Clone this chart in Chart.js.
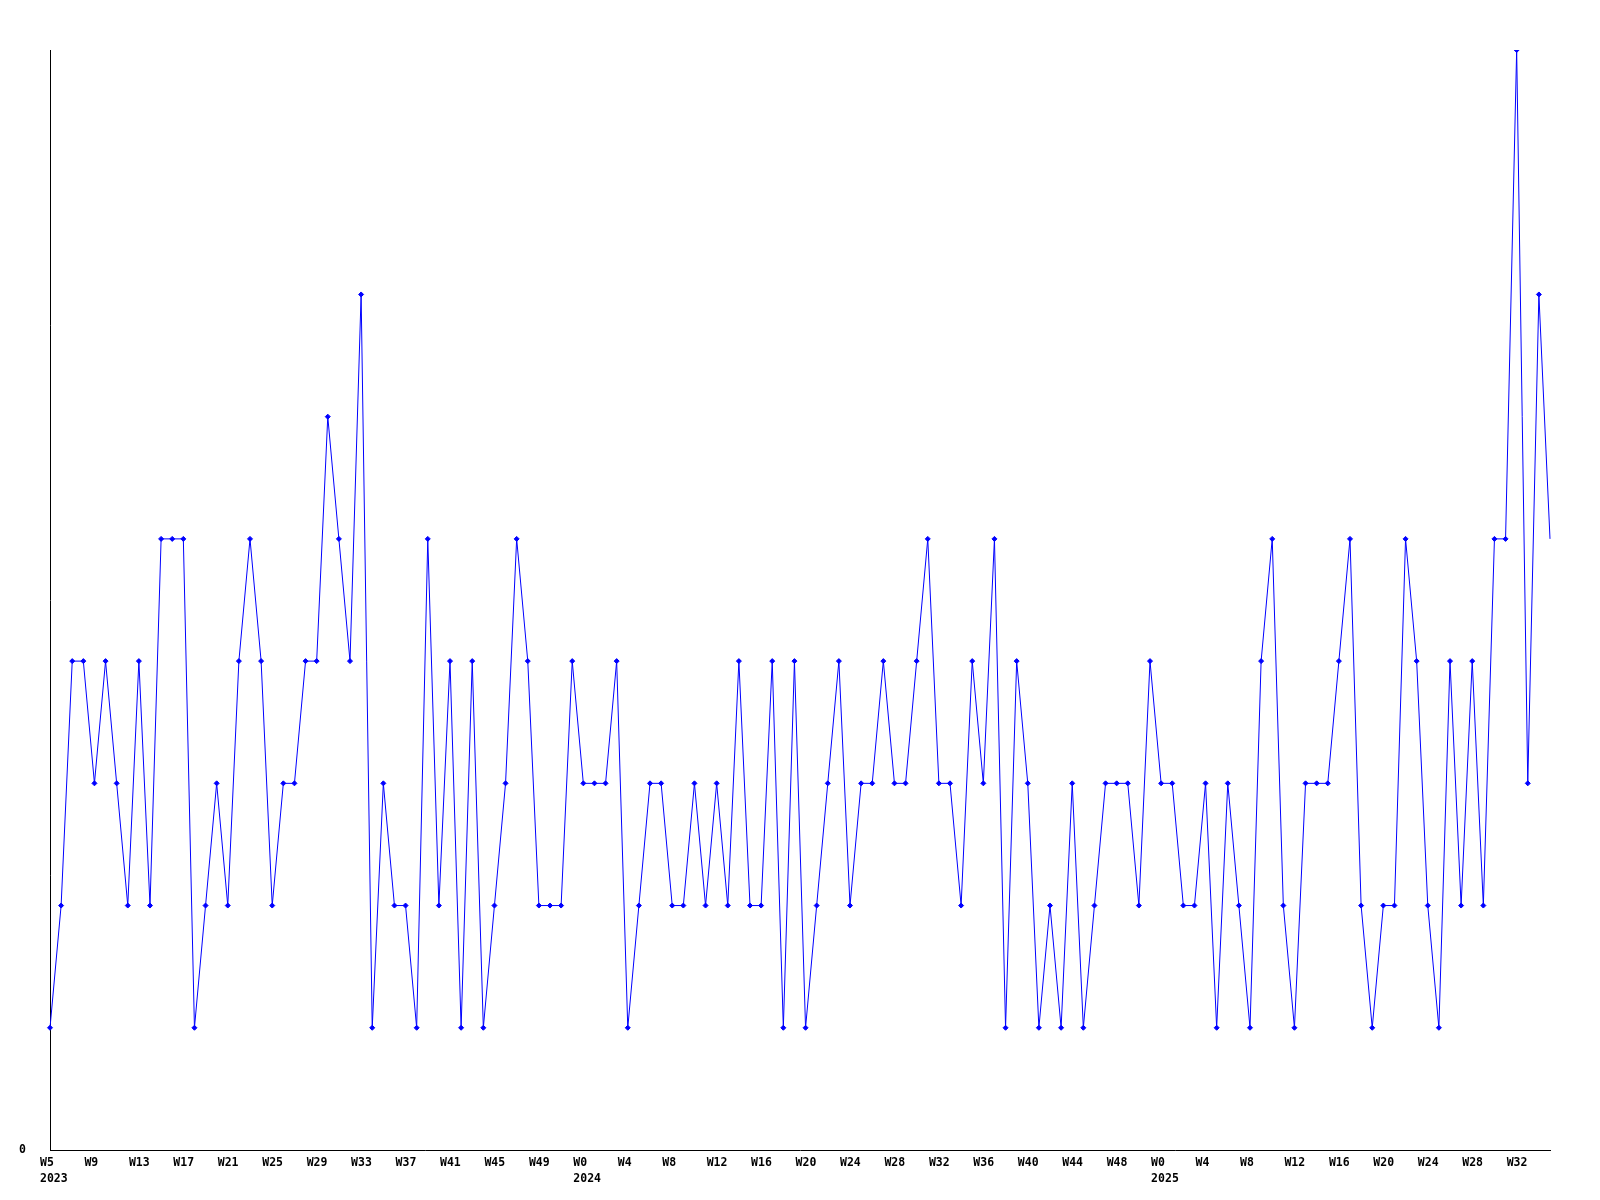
<!DOCTYPE html>
<html>
<head>
<meta charset="utf-8">
<script src="https://cdn.jsdelivr.net/npm/chart.js@4"></script>
<style>
  html, body { margin: 0; padding: 0; background: #fff; }
  canvas { display: block; }
</style>
</head>
<body>
<canvas id="chart" width="1600" height="1200"></canvas>
<script>
// Weekly counts, 2023 W5 .. 2025 W35 (one point per week).
const YEARS = ["2023", "2024", "2025"];
const FIRST_WEEK = [5, 0, 0];
const LAST_WEEK = [52, 51, 35];

const COUNTS = [
  1, 2, 4, 4, 3, 4, 3, 2, 4, 2,
  5, 5, 5, 1, 2, 3, 2, 4, 5, 4,
  2, 3, 3, 4, 4, 6, 5, 4, 7, 1,
  3, 2, 2, 1, 5, 2, 4, 1, 4, 1,
  2, 3, 5, 4, 2, 2, 2, 4, 3, 3,
  3, 4, 1, 2, 3, 3, 2, 2, 3, 2,
  3, 2, 4, 2, 2, 4, 1, 4, 1, 2,
  3, 4, 2, 3, 3, 4, 3, 3, 4, 5,
  3, 3, 2, 4, 3, 5, 1, 4, 3, 1,
  2, 1, 3, 1, 2, 3, 3, 3, 2, 4,
  3, 3, 2, 2, 3, 1, 3, 2, 1, 4,
  5, 2, 1, 3, 3, 3, 4, 5, 2, 1,
  2, 2, 5, 4, 2, 1, 4, 2, 4, 2,
  5, 5, 9, 3, 7, 5,
];

const Y_MAX = 9;
const LABEL_EVERY = 4;

// category labels: "W<n>", the year is added under the first shown label of each year
const weeks = [];
const yearOf = [];
YEARS.forEach((year, i) => {
  for (let w = FIRST_WEEK[i]; w <= LAST_WEEK[i]; w++) {
    weeks.push("W" + w);
    yearOf.push(year);
  }
});

const BLUE = "#0000ff";
const FONT = { family: '"DejaVu Sans Mono", monospace', size: 11.5, weight: "bold", lineHeight: "16px" };

new Chart(document.getElementById("chart"), {
  type: "line",
  data: {
    labels: weeks,
    datasets: [{
      data: COUNTS,
      borderColor: BLUE,
      backgroundColor: BLUE,
      borderWidth: 1,
      tension: 0,
      pointStyle: "rectRot",
      pointRadius: (ctx) => (ctx.dataIndex === COUNTS.length - 1 ? 0 : 2.5),
      pointBorderWidth: 1,
      pointBorderColor: BLUE,
      pointBackgroundColor: BLUE,
    }],
  },
  options: {
    responsive: false,
    animation: false,
    layout: { padding: { top: 50, right: 50, left: 0, bottom: 0 } },
    plugins: { legend: { display: false }, tooltip: { enabled: false } },
    scales: {
      x: {
        type: "category",
        offset: false,
        grid: { display: false, drawTicks: false },
        border: { color: "#000", width: 1 },
        afterFit: (s) => { s.height = 50; },
        ticks: {
          autoSkip: false,
          maxRotation: 0,
          minRotation: 0,
          align: "start",
          labelOffset: -10,
          padding: 5,
          color: "#000",
          font: FONT,
          callback: function (value, index) {
            if (index % LABEL_EVERY !== 0) return "";
            const first = index === 0 || yearOf[index - LABEL_EVERY] !== yearOf[index];
            return first ? [weeks[index], yearOf[index]] : weeks[index];
          },
        },
      },
      y: {
        min: 0,
        max: Y_MAX,
        grid: { display: false, drawTicks: false },
        border: { color: "#000", width: 1 },
        afterFit: (s) => { s.width = 50; },
        afterBuildTicks: (s) => { s.ticks = [{ value: 0 }]; },
        ticks: { padding: 24, color: "#000", font: FONT, callback: (v) => String(v) },
      },
    },
  },
});
</script>
</body>
</html>
